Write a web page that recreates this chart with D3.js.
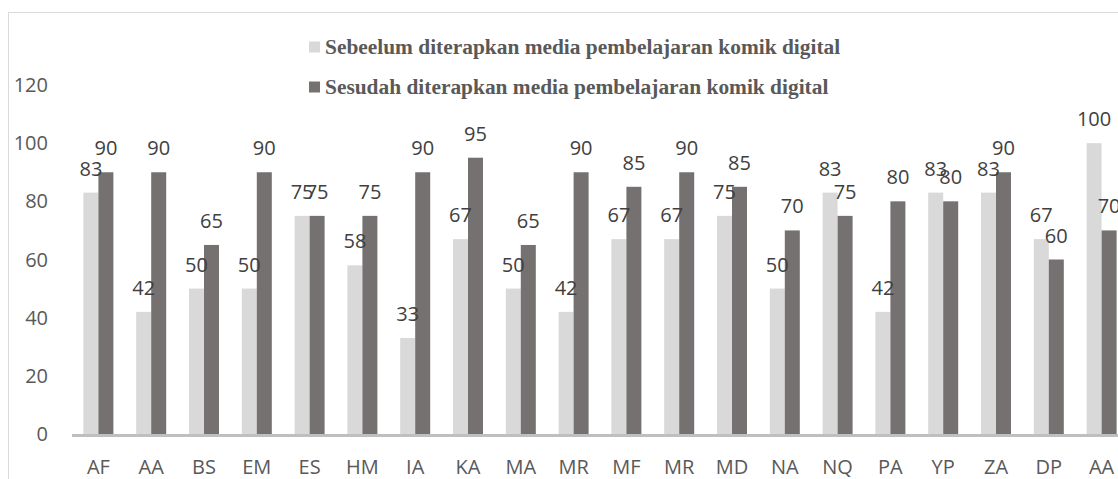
<!DOCTYPE html>
<html>
<head>
<meta charset="utf-8">
<script src="https://cdn.jsdelivr.net/npm/d3@7"></script>
<style>
  body { margin: 0; background: #fff; overflow: hidden; }
</style>
</head>
<body>
<div id="chart"></div>
<script>
// data
const students = ["AF", "AA", "BS", "EM", "ES", "HM", "IA", "KA", "MA", "MR",
                  "MF", "MR", "MD", "NA", "NQ", "PA", "YP", "ZA", "DP", "AA"]
const before = [83, 42, 50, 50, 75, 58, 33, 67, 50, 42, 67, 67, 75, 50, 83, 42, 83, 83, 67, 100]
const after = [90, 90, 65, 90, 75, 75, 90, 95, 65, 90, 85, 90, 85, 70, 75, 80, 80, 90, 60, 70]
const seriesNames = ["Sebeelum diterapkan media pembelajaran komik digital",
                     "Sesudah diterapkan media pembelajaran komik digital"]
const yTicks = [0, 20, 40, 60, 80, 100, 120]

const W = 1118, H = 479
const colors = ["#d9d9d9", "#767171"]

const svg = d3.select("#chart")
  .append("svg")
  .attr("width", W)
  .attr("height", H)

// chart area border (runs off the right and bottom edge)
svg.append("rect")
  .attr("x", 8.5)
  .attr("y", 12.5)
  .attr("width", W + 20)
  .attr("height", H + 20)
  .attr("fill", "none")
  .attr("stroke", "#d9d9d9")
  .attr("stroke-width", 1)

const idx = d3.range(students.length)

const x0 = d3.scaleBand()
  .domain(idx)
  .range([72, 72 + students.length * 52.8])
  .padding(0)

const x1 = d3.scaleBand()
  .domain([0, 1])
  .range([0, x0.bandwidth()])
  .paddingInner(0)
  .paddingOuter(0.76)

const y = d3.scaleLinear()
  .domain([0, 120])
  .range([434, 85])

// y tick labels
svg.append("g")
  .selectAll("text")
  .data(yTicks)
  .join("text")
    .attr("x", 48)
    .attr("y", d => y(d) + 7)
    .attr("text-anchor", "end")
    .style("font-family", "Open Sans, sans-serif")
    .style("font-size", "20px")
    .style("fill", "#595959")
    .text(d => d)

// bars
const groups = svg.append("g")
  .selectAll("g")
  .data(idx)
  .join("g")
    .attr("transform", i => `translate(${x0(i)},0)`)

groups.selectAll("rect")
  .data(i => [before[i], after[i]].map((v, k) => ({k: k, v: v})))
  .join("rect")
    .attr("x", d => x1(d.k))
    .attr("y", d => y(d.v))
    .attr("width", x1.bandwidth())
    .attr("height", d => y(0) - y(d.v))
    .attr("fill", d => colors[d.k])

// value labels
groups.selectAll("text")
  .data(i => [before[i], after[i]].map((v, k) => ({k: k, v: v})))
  .join("text")
    .attr("x", d => x1(d.k) + x1.bandwidth() / 2)
    .attr("y", d => y(d.v) - 17)
    .attr("text-anchor", "middle")
    .style("font-family", "Open Sans, sans-serif")
    .style("font-size", "20px")
    .style("fill", "#404040")
    .text(d => d.v)

// x axis line
svg.append("line")
  .attr("x1", 72)
  .attr("x2", W)
  .attr("y1", 435.5)
  .attr("y2", 435.5)
  .attr("stroke", "#bfbfbf")
  .attr("stroke-width", 3)

// category labels
svg.append("g")
  .selectAll("text")
  .data(idx)
  .join("text")
    .attr("x", i => x0(i) + x0.bandwidth() / 2)
    .attr("y", 474)
    .attr("text-anchor", "middle")
    .style("font-family", "Open Sans, sans-serif")
    .style("font-size", "20px")
    .style("fill", "#595959")
    .text(i => students[i])

// legend
const legend = svg.append("g")
  .selectAll("g")
  .data(seriesNames)
  .join("g")
    .attr("transform", (d, i) => `translate(309,${47 + i * 40})`)

legend.append("rect")
  .attr("x", 0)
  .attr("y", -5.5)
  .attr("width", 11)
  .attr("height", 11)
  .attr("fill", (d, i) => colors[i])

legend.append("text")
  .attr("x", 16)
  .attr("y", 7)
  .style("font-family", "Liberation Serif, Times New Roman, serif")
  .style("font-weight", "bold")
  .style("font-size", "21.4px")
  .style("fill", "#595959")
  .text(d => d)
</script>
</body>
</html>
